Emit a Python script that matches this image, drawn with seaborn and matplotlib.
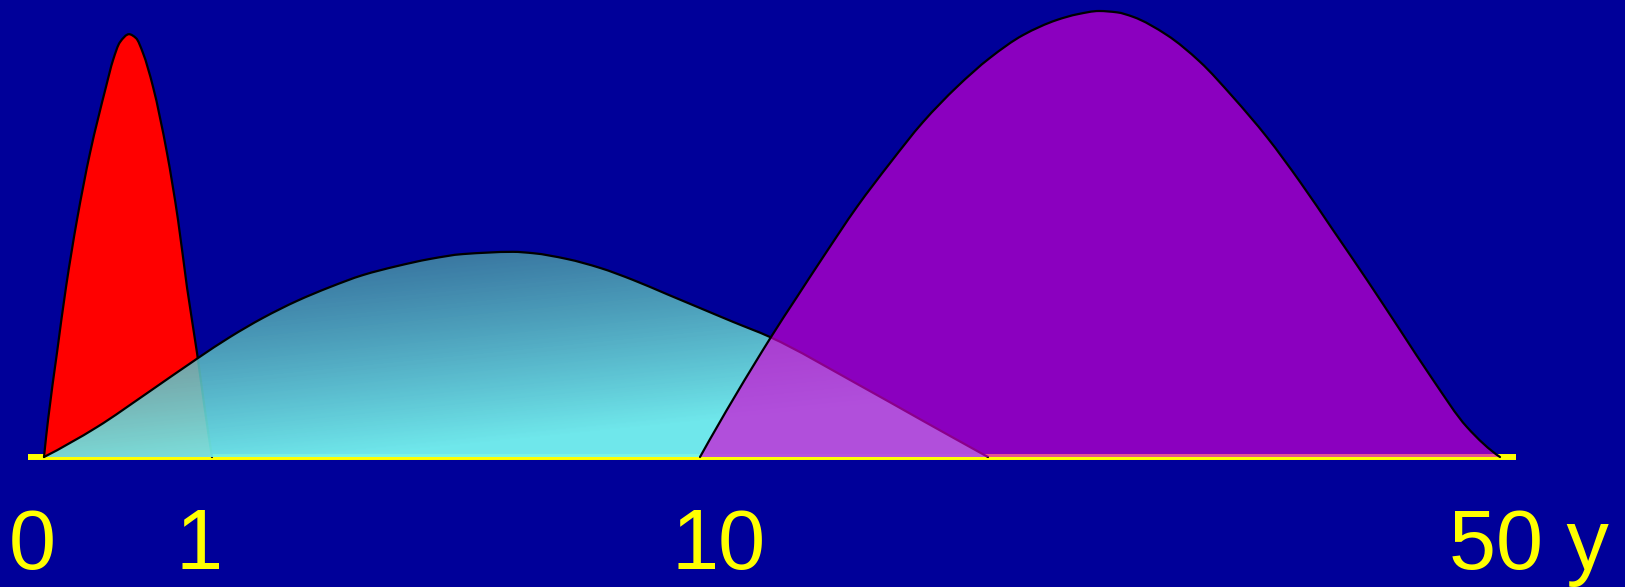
import numpy as np
import matplotlib
matplotlib.use("Agg")
import matplotlib.pyplot as plt
import matplotlib.transforms as mtransforms
from matplotlib.path import Path
from matplotlib.patches import PathPatch
import seaborn as sns

# Age axis: tick values (years) and their labels
tick_years = [0, 1, 10, 50]
tick_labels = ["0", "1", "10", "50 y"]

# Red curve (first year of life)
red_age = [0.0, 0.024, 0.077, 0.131, 0.196, 0.274, 0.369, 0.411, 0.452, 0.506,
           0.548, 0.589, 0.649, 0.732, 0.798, 0.851, 0.911, 0.958, 1.0]
red_val = [0.0, 0.083, 0.233, 0.381, 0.531, 0.682, 0.830, 0.890, 0.930, 0.948,
           0.939, 0.906, 0.830, 0.682, 0.531, 0.381, 0.233, 0.105, 0.0]

# Cyan curve (childhood)
cyan_age = [0.0, 0.315, 0.613, 0.917, 1.332, 1.941, 2.568, 3.176, 3.785, 4.412,
            5.020, 5.629, 6.551, 6.920, 7.547, 8.156, 8.765, 9.392, 10.0, 11.65,
            13.5, 17.85, 21.15, 24.4]
cyan_val = [0.0, 0.067, 0.143, 0.222, 0.269, 0.312, 0.350, 0.381, 0.408, 0.428,
            0.444, 0.455, 0.460, 0.457, 0.444, 0.424, 0.397, 0.365, 0.334, 0.303,
            0.269, 0.164, 0.081, 0.0]

# Purple curve (adulthood)
purple_age = [10.0, 13.55, 14.85, 16.15, 17.85, 19.5, 21.15, 22.85, 24.5, 26.15,
              27.85, 28.9, 29.95, 30.85, 31.65, 33.35, 35.0, 36.65, 38.35, 40.0,
              41.65, 43.35, 45.0, 46.65, 48.35, 50.0]
purple_val = [0.0, 0.269, 0.359, 0.448, 0.561, 0.659, 0.751, 0.830, 0.895, 0.946,
              0.980, 0.993, 1.0, 0.997, 0.987, 0.946, 0.886, 0.807, 0.717, 0.617,
              0.509, 0.397, 0.285, 0.173, 0.067, 0.0]

BG = "#000099"
YELLOW = "#ffff00"

sns.set_theme(style="white", rc={"axes.facecolor": BG, "figure.facecolor": BG})
plt.rcParams["font.family"] = ["Liberation Sans", "DejaVu Sans"]

W_PX, H_PX, DPI = 1625, 587, 100
fig = plt.figure(figsize=(W_PX / DPI, H_PX / DPI), dpi=DPI)
ax = fig.add_axes([0, 0, 1, 1])

# Piecewise-linear age axis: the first year is stretched, later decades compressed
_yrs = np.array([-10.0, 0.0, 1.0, 10.0, 50.0, 200.0])
_pos = np.array([44 - 1680.0, 44.0, 212.0, 700.0, 1500.0, 4500.0])


def fwd(x):
    return np.interp(x, _yrs, _pos)


def inv(p):
    return np.interp(p, _pos, _yrs)


ax.set_xscale("function", functions=(fwd, inv))


def pchip_slopes(x, y):
    """Shape-preserving (Fritsch-Carlson) tangents at each point."""
    h = np.diff(x)
    d = np.diff(y) / h
    n = len(x)
    m = np.zeros(n)
    for k in range(1, n - 1):
        if d[k - 1] * d[k] > 0:
            w1, w2 = 2 * h[k] + h[k - 1], h[k] + 2 * h[k - 1]
            m[k] = (w1 + w2) / (w1 / d[k - 1] + w2 / d[k])

    def end(h0, h1, d0, d1):
        m0 = ((2 * h0 + h1) * d0 - h0 * d1) / (h0 + h1)
        if np.sign(m0) != np.sign(d0):
            return 0.0
        if np.sign(d0) != np.sign(d1) and abs(m0) > 3 * abs(d0):
            return 3 * d0
        return m0

    m[0] = end(h[0], h[1], d[0], d[1])
    m[-1] = end(h[-1], h[-2], d[-1], d[-2])
    return m


def smooth_path(age, val, closed):
    """Smooth Bezier path through the points, built in screen-position space."""
    x = fwd(np.asarray(age, float))
    y = np.asarray(val, float)
    m = pchip_slopes(x, y)
    verts, codes = [(x[0], y[0])], [Path.MOVETO]
    for k in range(len(x) - 1):
        h = x[k + 1] - x[k]
        verts += [(x[k] + h / 3, y[k] + m[k] * h / 3),
                  (x[k + 1] - h / 3, y[k + 1] - m[k + 1] * h / 3),
                  (x[k + 1], y[k + 1])]
        codes += [Path.CURVE4] * 3
    if closed:
        verts.append((x[0], y[0]))
        codes.append(Path.CLOSEPOLY)
    V = np.array(verts)
    V[:, 0] = inv(V[:, 0])
    return Path(V, codes)


def add_curve(age, val, face, alpha, z):
    if face is not None:
        ax.add_patch(PathPatch(smooth_path(age, val, True), facecolor=face,
                               alpha=alpha, edgecolor="none", lw=0, zorder=z))
    ax.add_patch(PathPatch(smooth_path(age, val, False), facecolor="none",
                           edgecolor="black", lw=1.6, zorder=z + 0.5,
                           capstyle="round", joinstyle="round"))


# Yellow baseline
ax.axhline(0, xmin=28 / W_PX, xmax=1516 / W_PX, color=YELLOW, lw=4.3,
           solid_capstyle="butt", zorder=1)

# Red
add_curve(red_age, red_val, "#ff0000", 1.0, 2)

# Cyan with a soft diagonal gradient, clipped to the curve
rows = np.arange(H_PX)[:, None].astype(float)
cols = np.arange(W_PX)[None, :].astype(float)
t = np.clip((rows + 0.1 * (cols - 500) - 250) / 190.0, 0, 1)
top_c = np.array([75, 155, 165]) / 255.0
bot_c = np.array([118, 245, 240]) / 255.0
rgb = top_c + (bot_c - top_c) * t[..., None]
alpha = 0.78 + 0.17 * t
grad = np.dstack([rgb, alpha])
im = ax.imshow(grad, extent=(0, 1, 0, 1), transform=ax.transAxes,
               origin="upper", aspect="auto", interpolation="bilinear", zorder=3)
clip_patch = PathPatch(smooth_path(cyan_age, cyan_val, True), facecolor="none",
                       edgecolor="none", transform=ax.transData)
ax.add_patch(clip_patch)
im.set_clip_path(clip_patch)
add_curve(cyan_age, cyan_val, None, 1.0, 3)

# Purple (semi-transparent)
add_curve(purple_age, purple_val, (212 / 255, 0, 212 / 255), 0.66, 4)

# Limits: whole figure is the plotting area
ax.set_xlim(inv(0.0), inv(float(W_PX)))
ax.set_ylim(-130 / 446, 457 / 446)
ax.set_axis_off()

# Age labels
label_shift_px = [-12, -13, 19, 28.5]
for yr, lab, dx in zip(tick_years, tick_labels, label_shift_px):
    tr = ax.transData + mtransforms.ScaledTranslation(dx / DPI, 0, fig.dpi_scale_trans)
    ax.text(yr, -112 / 446, lab, transform=tr, ha="center", va="baseline",
            color=YELLOW, fontsize=61, zorder=6)

fig.savefig("out.png", dpi=DPI, facecolor=BG)
